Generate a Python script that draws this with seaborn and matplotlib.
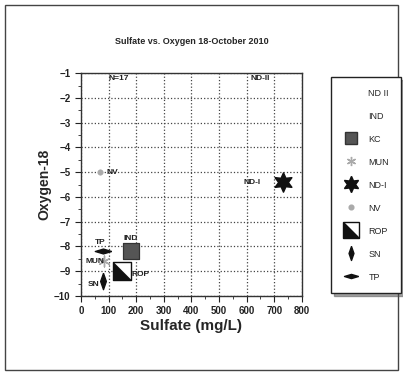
import matplotlib
matplotlib.use("Agg")
import matplotlib.pyplot as plt
import seaborn as sns
import numpy as np
import pandas as pd
from matplotlib.path import Path
from matplotlib.lines import Line2D
from matplotlib.legend_handler import HandlerTuple
from matplotlib.ticker import MultipleLocator, AutoMinorLocator

sites = ["ND II", "IND", "KC", "MUN", "ND-I", "NV", "ROP", "SN", "TP"]
sulfate = [np.nan, np.nan, 180, 85, 730, 70, 150, 80, 80]
oxygen18 = [np.nan, np.nan, -8.2, -8.6, -5.4, -5.0, -9.0, -9.4, -8.2]
label_text = ["ND-II", "IND", "", "MUN", "ND-I", "NV", "ROP", "SN", "TP"]
label_x = [650, 180, 0, 50, 620, 115, 215, 45, 70]
label_y = [-1.2, -7.7, 0, -8.6, -5.4, -5.0, -9.15, -9.55, -7.85]

sns.set_style("white")
plt.rcParams['font.family'] = ['Liberation Sans', 'DejaVu Sans']

fig = plt.figure(figsize=(4.03, 3.75), dpi=100)
ax = fig.add_axes([0.201, 0.211, 0.548, 0.594])

df = pd.DataFrame({"site": sites, "sulfate": sulfate, "o18": oxygen18})

tri = Path([(-1, -1), (1, -1), (-1, 1), (-1, -1)], [Path.MOVETO, Path.LINETO, Path.LINETO, Path.CLOSEPOLY])
styles = {
    "KC": dict(marker="s", s=120, color="#555555", edgecolor="#333333"),
    "MUN": dict(marker=(6, 2, 0), s=60, color="#aaaaaa", linewidth=1),
    "ND-I": dict(marker=(6, 1, 0), s=190, color="#111111", edgecolor="#111111"),
    "NV": dict(marker="o", s=16, color="#aaaaaa", edgecolor="#aaaaaa"),
    "SN": dict(marker=Path([(0, 1), (0.35, 0), (0, -1), (-0.35, 0), (0, 1)]), s=140, color="#111111", edgecolor="#111111"),
    "TP": dict(marker=Path([(1, 0), (0, 0.3), (-1, 0), (0, -0.3), (1, 0)]), s=140, color="#111111", edgecolor="#111111"),
}

handles = {}
for site, st in styles.items():
    sub = df[df.site == site]
    sns.scatterplot(data=sub, x="sulfate", y="o18", ax=ax, legend=False, zorder=3, **st)
    kw = dict(marker=st["marker"], linestyle="none", markersize=np.sqrt(st["s"]) * 0.85,
              markerfacecolor=st["color"], markeredgecolor=st.get("edgecolor", st["color"]), color=st["color"])
    handles[site] = Line2D([], [], **kw)

# ROP: white square with black lower-left triangle
sub = df[df.site == "ROP"]
sns.scatterplot(data=sub, x="sulfate", y="o18", ax=ax, legend=False, zorder=3,
                marker="s", s=160, color="white", edgecolor="#111111", linewidth=1)
sns.scatterplot(data=sub, x="sulfate", y="o18", ax=ax, legend=False, zorder=4,
                marker=tri, s=160, color="#111111", edgecolor="#111111", linewidth=0.5)
handles["ROP"] = (Line2D([], [], marker="s", linestyle="none", markersize=11, markerfacecolor="white", markeredgecolor="#111111"),
                  Line2D([], [], marker=tri, linestyle="none", markersize=11, markerfacecolor="#111111", markeredgecolor="#111111"))
handles["ND II"] = Line2D([], [], linestyle="none")
handles["IND"] = Line2D([], [], linestyle="none")

for t, x, y in zip(label_text, label_x, label_y):
    if t:
        ax.text(x, y, t, fontsize=6, fontweight="bold", ha="center", va="center", color="#222222", zorder=5)
ax.text(100, -1.2, "N=17", fontsize=6, fontweight="bold", ha="left", va="center", color="#222222")

ax.set_xlim(0, 800)
ax.set_ylim(-10, -1)
ax.xaxis.set_major_locator(MultipleLocator(100))
ax.yaxis.set_major_locator(MultipleLocator(1))
ax.xaxis.set_minor_locator(AutoMinorLocator(2))
ax.yaxis.set_minor_locator(AutoMinorLocator(2))
ax.grid(True, which="major", linestyle=":", color="#444444", linewidth=0.9)
ax.tick_params(which="major", direction="out", length=4, labelsize=7, width=0.8, colors="#222222", left=True, bottom=True)
ax.tick_params(which="minor", direction="out", length=2, width=0.6, left=True, bottom=True)
for sp in ax.spines.values():
    sp.set_color("#333333")
    sp.set_linewidth(1)
for lbl in ax.get_xticklabels() + ax.get_yticklabels():
    lbl.set_fontweight("bold")

ax.set_xlabel("Sulfate (mg/L)", fontsize=11, fontweight="bold", labelpad=2)
ax.set_ylabel("Oxygen-18", fontsize=10, fontweight="bold", labelpad=2)
ax.set_title("Sulfate vs. Oxygen 18-October 2010", fontsize=6.5, fontweight="bold", pad=21)

order = sites
leg = fig.legend([handles[s] for s in order], order, loc="upper left",
                 bbox_to_anchor=(0.822, 0.795), fontsize=6.5, frameon=True,
                 fancybox=False, shadow=True, borderpad=1.3, labelspacing=1.55,
                 handlelength=1.8, handletextpad=1.0, borderaxespad=0,
                 handler_map={tuple: HandlerTuple(ndivide=1, pad=0)})
leg.get_frame().set_edgecolor("#222222")
leg.get_frame().set_linewidth(1)

fig.patches.append(plt.Rectangle((0.012, 0.013), 0.976, 0.975, transform=fig.transFigure,
                                 fill=False, edgecolor="#444444", linewidth=1))

fig.savefig("out.png", dpi=100)
